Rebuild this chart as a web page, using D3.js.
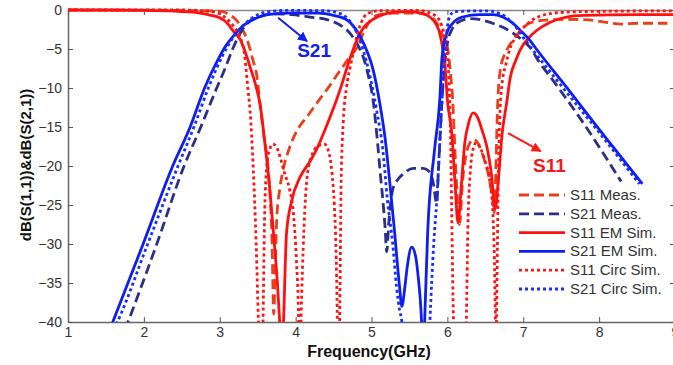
<!DOCTYPE html>
<html>
<head>
<meta charset="utf-8">
<script src="https://cdn.jsdelivr.net/npm/d3@7"></script>
<style>
  body { margin: 0; background: #fff; }
  text { font-family: 'Liberation Sans', Arial, sans-serif; }
</style>
</head>
<body>
<div id="chart"></div>
<script>
// tick labels
const freqTicks = [1, 2, 3, 4, 5, 6, 7, 8, 9];
const dbTicks = [-40, -35, -30, -25, -20, -15, -10, -5, 0];
const seriesNames = ['S11 Meas.', 'S21 Meas.', 'S11 EM Sim.', 'S21 EM Sim.', 'S11 Circ Sim.', 'S21 Circ Sim.'];

// [frequency GHz, dB]
const s11Meas = [[1, 0], [2.5, -0.05], [2.9, -0.1], [3.04, -0.2], [3.12, -0.6], [3.22, -1.3], [3.3, -2.5], [3.36, -3.8],
  [3.44, -6.5], [3.49, -8.5], [3.53, -12], [3.58, -16], [3.64, -20.5], [3.67, -25], [3.69, -30], [3.7, -35], [3.71, -39],
  [3.73, -34], [3.75, -27], [3.79, -23], [3.82, -21.2], [3.9, -18.2], [3.98, -16.2], [4.06, -14.8], [4.15, -13.7],
  [4.23, -12.6], [4.32, -11.4], [4.45, -9.7], [4.54, -8.4], [4.62, -7.3], [4.7, -6.2], [4.81, -4.8], [4.9, -2.8],
  [4.98, -1.4], [5.1, -0.6], [5.3, -0.4], [5.6, -0.4], [5.75, -0.7], [5.85, -1.5], [5.92, -2.8], [5.97, -4], [6.01, -5.3],
  [6.04, -8], [6.07, -11.5], [6.1, -18], [6.13, -24], [6.16, -27.5], [6.2, -22], [6.26, -18], [6.3, -17], [6.35, -16.6],
  [6.41, -17.2], [6.48, -19], [6.55, -21.5], [6.6, -24.5], [6.62, -26], [6.64, -20], [6.66, -12.8], [6.7, -7.5],
  [6.78, -5.2], [6.87, -3.8], [6.97, -2.6], [7.08, -1.7], [7.3, -1.3], [7.6, -1.2], [7.9, -1.3], [8.1, -1.6], [8.3, -1.8],
  [8.5, -1.7], [8.9, -1.7]];

const s21Meas = [[1.75, -41], [1.79, -40], [2.17, -30], [2.53, -20], [2.75, -15], [2.96, -10], [3.07, -7.5], [3.17, -5],
  [3.28, -2.8], [3.4, -1.4], [3.55, -0.8], [3.7, -0.5], [3.95, -0.6], [4.19, -0.9], [4.4, -1.2], [4.58, -1.9], [4.68, -2.6],
  [4.75, -3.4], [4.82, -4.5], [4.89, -6], [4.96, -8.5], [5.02, -11.5], [5.08, -17], [5.12, -21.4], [5.15, -24.4],
  [5.18, -28], [5.2, -31], [5.23, -27], [5.28, -23], [5.35, -21.7], [5.42, -21], [5.55, -20.3], [5.68, -20.3],
  [5.75, -20.6], [5.81, -22], [5.86, -24.8], [5.88, -21], [5.9, -17], [5.93, -11.5], [5.96, -7.5], [6.0, -4.3],
  [6.06, -2.5], [6.12, -1.7], [6.3, -1.1], [6.5, -1.4], [6.65, -1.9], [6.77, -2.4], [6.87, -3], [6.98, -3.8], [7.08, -4.7],
  [7.22, -6.8], [7.39, -9], [7.8, -14.6], [8.29, -22]];

const s11Em = [[1, 0], [1.5, 0], [2.0, -0.05], [2.4, -0.15], [2.6, -0.25], [2.74, -0.4], [2.87, -0.65], [3.0, -1.0],
  [3.1, -1.7], [3.17, -2.6], [3.27, -3.8], [3.34, -5.5], [3.4, -7.3], [3.47, -9.5], [3.53, -12], [3.6, -17.5], [3.66, -23],
  [3.72, -30], [3.76, -35], [3.79, -40], [3.82, -44], [3.84, -40], [3.88, -28.6], [3.95, -24.4], [4.06, -21.4],
  [4.19, -19.4], [4.28, -17.8], [4.36, -16], [4.45, -13.8], [4.54, -11.5], [4.61, -9.5], [4.68, -7.3], [4.75, -5.3],
  [4.81, -3.8], [4.9, -2.2], [5.02, -1.2], [5.15, -0.6], [5.28, -0.3], [5.5, -0.2], [5.65, -0.4], [5.77, -0.9], [5.85, -1.8],
  [5.9, -3], [5.94, -5], [5.97, -7.3], [6.0, -11.5], [6.06, -16], [6.1, -22], [6.14, -27.3], [6.18, -23], [6.23, -17],
  [6.28, -14.5], [6.34, -13.2], [6.4, -13.8], [6.46, -15.5], [6.52, -17.5], [6.58, -21], [6.63, -25.5], [6.67, -22],
  [6.72, -16], [6.78, -12], [6.83, -8.6], [6.9, -6.5], [6.96, -5.1], [7.08, -3.5], [7.18, -2.6], [7.35, -1.6],
  [7.57, -0.9], [7.8, -0.7], [8.5, -0.6], [9, -0.6]];

const s21Em = [[1.55, -41], [1.59, -40], [1.99, -30], [2.38, -20], [2.61, -15], [2.8, -10], [2.98, -6.3], [3.08, -4.6],
  [3.21, -3], [3.3, -2.1], [3.45, -1.2], [3.62, -0.6], [3.9, -0.4], [4.3, -0.4], [4.5, -0.7], [4.68, -1.3], [4.78, -2.3],
  [4.85, -3.4], [4.95, -5.5], [5.02, -7.6], [5.11, -12], [5.18, -16.5], [5.24, -22], [5.3, -28], [5.37, -35.5], [5.4, -38],
  [5.44, -35.5], [5.47, -33], [5.53, -30.4], [5.58, -31.5], [5.61, -33.7], [5.66, -40], [5.68, -45], [5.7, -40],
  [5.74, -28.6], [5.83, -18], [5.9, -11.5], [5.93, -6], [5.99, -3], [6.07, -1.7], [6.2, -0.9], [6.43, -0.6], [6.6, -0.6],
  [6.73, -0.9], [6.85, -1.6], [6.96, -2.6], [7.08, -3.8], [7.18, -5.1], [7.57, -9.9], [8.0, -15.3], [8.57, -22.3]];

const s11Circ = [[1, 0], [2.5, 0], [2.9, -0.2], [3.05, -0.8], [3.15, -1.7], [3.22, -2.6], [3.27, -3.5], [3.33, -6],
  [3.37, -10], [3.4, -13], [3.44, -20], [3.48, -30], [3.51, -40], [3.54, -48], [3.57, -40], [3.59, -27], [3.62, -20],
  [3.66, -17.8], [3.7, -17.2], [3.75, -17.6], [3.8, -19], [3.85, -20.8], [3.92, -23], [3.97, -26], [4.01, -32], [4.04, -40],
  [4.05, -48], [4.07, -40], [4.11, -28], [4.15, -21.5], [4.22, -18.5], [4.3, -17.4], [4.38, -17.2], [4.43, -18],
  [4.48, -21], [4.51, -25], [4.53, -30], [4.55, -40], [4.56, -48], [4.58, -40], [4.6, -22], [4.63, -14], [4.67, -10],
  [4.72, -7.3], [4.77, -5], [4.81, -3.2], [4.87, -1.5], [4.94, -0.5], [5.1, -0.1], [5.6, -0.05], [5.8, -0.5], [5.9, -1.4],
  [5.95, -2.8], [5.99, -4.5], [6.02, -9], [6.04, -15], [6.06, -28], [6.08, -40], [6.1, -48], [6.23, -48], [6.25, -40],
  [6.27, -28], [6.3, -21], [6.34, -17.8], [6.38, -17], [6.43, -17.6], [6.5, -19.5], [6.56, -22], [6.6, -26], [6.62, -32],
  [6.64, -42], [6.66, -30], [6.67, -22], [6.69, -14], [6.72, -9.5], [6.77, -7], [6.82, -5.1], [6.9, -3.5], [6.99, -2.4],
  [7.1, -1.4], [7.22, -0.8], [7.4, -0.4], [7.8, -0.2], [9, -0.1]];

const s21Circ = [[1.6, -41], [1.65, -40], [2.05, -30], [2.45, -20], [2.66, -15], [2.85, -10], [3.04, -5.8], [3.2, -3.2],
  [3.35, -1.6], [3.5, -0.6], [3.65, -0.2], [3.9, -0.05], [4.4, -0.1], [4.6, -0.5], [4.72, -1.5], [4.8, -2.8], [4.89, -5.1],
  [4.98, -8.5], [5.07, -13], [5.15, -18], [5.21, -24.4], [5.28, -30], [5.33, -35.5], [5.37, -38.5], [5.4, -40],
  [5.42, -45], [5.75, -45], [5.77, -40], [5.82, -30], [5.86, -24.4], [5.9, -17], [5.93, -11.5], [5.96, -6.5], [5.99, -3],
  [6.03, -0.8], [6.1, -0.2], [6.5, -0.1], [6.7, -0.5], [6.82, -1.3], [6.92, -2.4], [6.99, -3.4], [7.1, -4.8],
  [7.5, -9.7], [8.0, -15.7], [8.53, -22.3]];

const seriesData = [s11Meas, s21Meas, s11Em, s21Em, s11Circ, s21Circ];

// line styles, same order as seriesNames
const styles = [
  { color: '#e8401c', dash: '10,5' },
  { color: '#2b2f88', dash: '10,5' },
  { color: '#ff1010', dash: null },
  { color: '#0d1ef0', dash: null },
  { color: '#ff1414', dash: '3,3' },
  { color: '#1a2cff', dash: '3,3' }
];

const margin = { top: 10, right: -2, bottom: 43, left: 68 };
const width = 673 - margin.left - margin.right;
const height = 365 - margin.top - margin.bottom;

const svg = d3.select('#chart')
  .append('svg')
  .attr('width', 673)
  .attr('height', 365)
  .append('g')
  .attr('transform', `translate(${margin.left}, ${margin.top})`);

const x = d3.scaleLinear().domain([1, 9]).range([0, width]);
const y = d3.scaleLinear().domain([-40, 0]).range([height, 0]);

svg.append('defs').append('clipPath')
  .attr('id', 'plotclip')
  .append('rect')
  .attr('x', 0)
  .attr('y', -2)
  .attr('width', width)
  .attr('height', height + 2);

// axes (box with inward ticks)
const styleAxis = (g, labels) => {
  g.select('.domain').attr('stroke', '#666').attr('stroke-width', 1.5);
  g.selectAll('.tick line').attr('stroke', '#555');
  g.selectAll('.tick text')
    .attr('fill', labels ? '#333' : 'none')
    .style('font-size', '14px')
    .style('font-family', "'Liberation Sans', Arial, sans-serif");
};

svg.append('g')
  .attr('transform', `translate(0, ${height})`)
  .call(d3.axisBottom(x).tickValues(freqTicks).tickSizeInner(-5).tickSizeOuter(0).tickPadding(5))
  .call(g => styleAxis(g, true));

svg.append('g')
  .call(d3.axisLeft(y).tickValues(dbTicks).tickSizeInner(-5).tickSizeOuter(0).tickPadding(6))
  .call(g => styleAxis(g, true));

svg.append('g')
  .call(d3.axisTop(x).tickValues(freqTicks).tickSizeInner(-5).tickSizeOuter(0).tickFormat(''))
  .call(g => styleAxis(g, false))
  .call(g => g.select('.domain').attr('stroke', '#888'));

svg.append('g')
  .attr('transform', `translate(${width}, 0)`)
  .call(d3.axisRight(y).tickValues(dbTicks).tickSizeInner(-5).tickSizeOuter(0).tickFormat(''))
  .call(g => styleAxis(g, false));

// curves
const line = d3.line()
  .x(d => x(d[0]))
  .y(d => y(d[1]))
  .curve(d3.curveMonotoneX);

const plot = svg.append('g').attr('clip-path', 'url(#plotclip)');

seriesData.forEach((data, i) => {
  plot.append('path')
    .datum(data)
    .attr('fill', 'none')
    .attr('stroke', styles[i].color)
    .attr('stroke-width', 2.8)
    .attr('stroke-dasharray', styles[i].dash)
    .attr('d', line);
});

// annotations
const defs = svg.select('defs');
[['arrowBlue', '#0d1ef0'], ['arrowRed', '#ff1a1a']].forEach(([id, c]) => {
  defs.append('marker')
    .attr('id', id)
    .attr('viewBox', '0 0 10 10')
    .attr('refX', 9)
    .attr('refY', 5)
    .attr('markerWidth', 5)
    .attr('markerHeight', 5)
    .attr('orient', 'auto')
    .append('path')
    .attr('d', 'M0,0 L10,5 L0,10 Z')
    .attr('fill', c);
});

svg.append('line')
  .attr('x1', x(3.77)).attr('y1', y(-1.0))
  .attr('x2', x(4.15)).attr('y2', y(-4.0))
  .attr('stroke', '#0d1ef0').attr('stroke-width', 2)
  .attr('marker-end', 'url(#arrowBlue)');

svg.append('text')
  .attr('x', x(4.02)).attr('y', y(-6.0))
  .attr('fill', '#1020ee')
  .style('font-size', '19px').style('font-weight', 'bold')
  .text('S21');

svg.append('line')
  .attr('x1', x(6.8)).attr('y1', y(-15.8))
  .attr('x2', x(7.23)).attr('y2', y(-18.1))
  .attr('stroke', '#ff1a1a').attr('stroke-width', 2)
  .attr('marker-end', 'url(#arrowRed)');

svg.append('text')
  .attr('x', x(7.13)).attr('y', y(-20.8))
  .attr('fill', '#ee1c1c')
  .style('font-size', '19px').style('font-weight', 'bold')
  .text('S11');

// legend
const legend = svg.append('g').attr('transform', `translate(${519 - margin.left}, ${195 - margin.top})`);
seriesNames.forEach((name, i) => {
  const row = legend.append('g').attr('transform', `translate(0, ${i * 18.8})`);
  row.append('line')
    .attr('x1', 0).attr('x2', 46)
    .attr('stroke', styles[i].color)
    .attr('stroke-width', 2.8)
    .attr('stroke-dasharray', styles[i].dash);
  row.append('text')
    .attr('x', 51).attr('y', 5)
    .attr('fill', '#333')
    .style('font-size', '15px')
    .text(name);
});

// axis titles
svg.append('text')
  .attr('x', 369 - margin.left)
  .attr('y', 357 - margin.top)
  .attr('text-anchor', 'middle')
  .attr('fill', '#111')
  .style('font-size', '16px').style('font-weight', 'bold')
  .text('Frequency(GHz)');

svg.append('text')
  .attr('transform', `translate(${31 - margin.left}, ${165 - margin.top}) rotate(-90)`)
  .attr('text-anchor', 'middle')
  .attr('fill', '#111')
  .style('font-size', '15px').style('font-weight', 'bold')
  .text('dB(S(1,1))&dB(S(2,1))');
</script>
</body>
</html>
